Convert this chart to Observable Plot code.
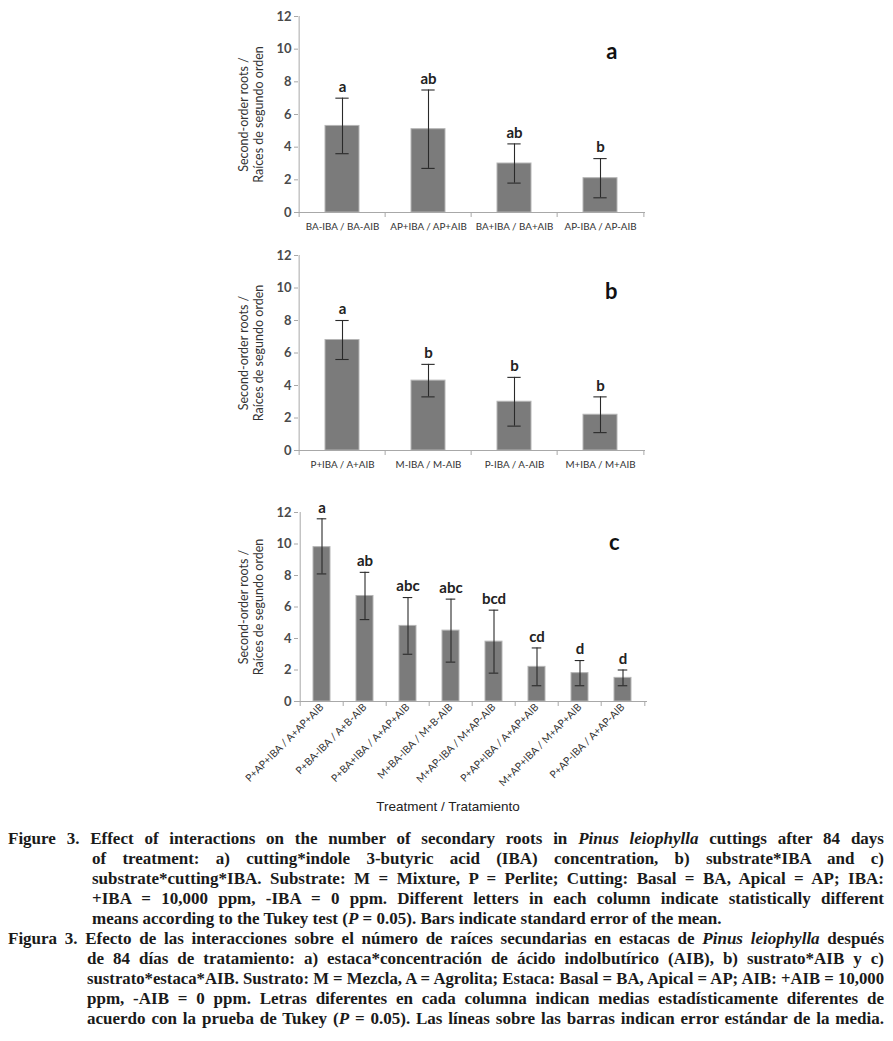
<!DOCTYPE html>
<html><head><meta charset="utf-8">
<script src="https://cdn.jsdelivr.net/npm/d3@7"></script>
<script src="https://cdn.jsdelivr.net/npm/@observablehq/plot@0.6"></script>
<style>
html,body{margin:0;padding:0;background:#fff;}
#wrap{position:relative;width:893px;height:1041px;overflow:hidden;}
.panel{position:absolute;left:0;}
.cap{position:absolute;font-family:"Liberation Serif","Times New Roman",serif;font-weight:bold;font-size:17px;line-height:20px;color:#1a1a1a;white-space:nowrap;}
.cap.just{text-align:justify;text-align-last:justify;}
.cap span{display:inline-block;transform-origin:0 50%;}
#xlab{position:absolute;font-family:"Liberation Sans",Arial,sans-serif;font-size:13.5px;color:#222;}
</style></head>
<body><div id="wrap"></div>
<script>
// ---- data ----
const catsA = ["BA-IBA / BA-AIB", "AP+IBA / AP+AIB", "BA+IBA / BA+AIB", "AP-IBA / AP-AIB"];
const meanA = [5.3, 5.1, 3.0, 2.1];
const loA = [3.6, 2.7, 1.8, 0.9];
const hiA = [7.0, 7.5, 4.2, 3.3];
const letA = ["a", "ab", "ab", "b"];

const catsB = ["P+IBA / A+AIB", "M-IBA / M-AIB", "P-IBA / A-AIB", "M+IBA / M+AIB"];
const meanB = [6.8, 4.3, 3.0, 2.2];
const loB = [5.6, 3.3, 1.5, 1.1];
const hiB = [8.0, 5.3, 4.5, 3.3];
const letB = ["a", "b", "b", "b"];

const catsC = ["P+AP+IBA / A+AP+AIB", "P+BA-IBA / A+B-AIB", "P+BA+IBA / A+AP+AIB", "M+BA-IBA / M+B-AIB",
  "M+AP-IBA / M+AP-AIB", "P+AP+IBA / A+AP+AIB", "M+AP+IBA / M+AP+AIB", "P+AP-IBA / A+AP-AIB"];
const meanC = [9.8, 6.7, 4.8, 4.5, 3.8, 2.2, 1.8, 1.5];
const loC = [8.1, 5.2, 3.0, 2.5, 1.8, 1.0, 1.0, 1.0];
const hiC = [11.6, 8.2, 6.6, 6.5, 5.8, 3.4, 2.6, 2.0];
const letC = ["a", "ab", "abc", "abc", "bcd", "cd", "d", "d"];

const yTicks = [0, 2, 4, 6, 8, 10, 12];
const yTitle = "Second-order roots /\nRaíces de segundo orden";
const xTitle = "Treatment / Tratamiento";

const captionEN = [
  "Figure 3. Effect of interactions on the number of secondary roots in <i>Pinus leiophylla</i> cuttings after 84 days",
  "of treatment: a) cutting*indole 3-butyric acid (IBA) concentration, b) substrate*IBA and c)",
  "substrate*cutting*IBA. Substrate: M = Mixture, P = Perlite; Cutting: Basal = BA, Apical = AP; IBA:",
  "+IBA = 10,000 ppm, -IBA = 0 ppm. Different letters in each column indicate statistically different",
  "means according to the Tukey test (<i>P</i> = 0.05). Bars indicate standard error of the mean."
];
const captionES = [
  "Figura 3. Efecto de las interacciones sobre el número de raíces secundarias en estacas de <i>Pinus leiophylla</i> después",
  "de 84 días de tratamiento: a) estaca*concentración de ácido indolbutírico (AIB), b) sustrato*AIB y c)",
  "sustrato*estaca*AIB. Sustrato: M = Mezcla, A = Agrolita; Estaca: Basal = BA, Apical = AP; AIB: +AIB = 10,000",
  "ppm, -AIB = 0 ppm. Letras diferentes en cada columna indican medias estadísticamente diferentes de",
  "acuerdo con la prueba de Tukey (<i>P</i> = 0.05). Las líneas sobre las barras indican error estándar de la media."
];

// ---- layout ----
const W = 893, FL = 298;
const wrap = document.getElementById("wrap");

function panel({cats, mean, lo, hi, let_, tag, top, frameRight, marginTop, frameBottom, marginBottom, rotate, cap, tagDy}) {
  const n = cats.length;
  const rows = cats.map((c, i) => ({i, m: mean[i], lo: lo[i], hi: hi[i], L: let_[i]}));
  const step = (frameRight - FL) / n;
  const bw = step * 0.4;
  const capInset = (bw - cap) / 2;
  const height = frameBottom + marginBottom;
  const font = "Lato, 'Open Sans', sans-serif";
  const chart = Plot.plot({
    width: W, height,
    marginLeft: FL, marginRight: W - frameRight, marginTop, marginBottom: height - frameBottom,
    style: {fontFamily: font, background: "transparent", overflow: "visible"},
    x: {type: "band", domain: d3.range(n), paddingInner: 0.6, paddingOuter: 0.3},
    y: {domain: [0, 12]},
    marks: [
      Plot.barY(rows, {x: "i", y: "m", fill: "#7b7b7b", stroke: "#b5b5b5", strokeWidth: 1}),
      Plot.ruleX(rows, {x: "i", y1: "lo", y2: "hi", stroke: "#2a2a2a", strokeWidth: 1.1}),
      Plot.tickY(rows, {x: "i", y: "hi", stroke: "#2a2a2a", strokeWidth: 1.1, insetLeft: capInset, insetRight: capInset}),
      Plot.tickY(rows, {x: "i", y: "lo", stroke: "#2a2a2a", strokeWidth: 1.1, insetLeft: capInset, insetRight: capInset}),
      Plot.text(rows, {x: "i", y: "hi", text: "L", dy: -11, fontWeight: "bold", fontSize: 15, fill: "#222"}),
      Plot.ruleY([0], {stroke: "#a8a8a8"}),
      Plot.ruleX([0], {x: d => d, dx: -step / 2, y1: 0, y2: 12, stroke: "#a8a8a8"}),
      Plot.ruleX(rows, {x: "i", dx: -step / 2, y1: 0, y2: 0, insetBottom: -5, stroke: "#a8a8a8"}),
      Plot.ruleX([n - 1], {x: d => d, dx: step / 2, y1: 0, y2: 0, insetBottom: -5, stroke: "#a8a8a8"}),
      Plot.axisY({ticks: yTicks, tickSize: 4, tickPadding: 3, stroke: "#a8a8a8", fill: "#4a4a4a", fontWeight: "bold", fontSize: 13, label: null}),
      rotate
        ? Plot.axisX({tickSize: 0, tickPadding: 4, tickRotate: -45, tickFormat: i => cats[i], fill: "#333", fontSize: 10.3, label: null})
        : Plot.axisX({tickSize: 0, tickPadding: 11, tickFormat: i => cats[i], fill: "#333", fontSize: 9.8, label: null}),
      Plot.text([tag], {frameAnchor: "top-right", text: d => d, dx: -28, dy: tagDy, fontWeight: "bold", fontSize: 22, fill: "#111"}),
      Plot.text([yTitle], {frameAnchor: "left", textAnchor: "middle", lineAnchor: "middle", text: d => d, rotate: -90, dx: -48, fontSize: 12.5, lineHeight: 1.2, fill: "#333"})
    ]
  });
  chart.classList.add("panel");
  chart.style.top = top + "px";
  wrap.appendChild(chart);
}

panel({cats: catsA, mean: meanA, lo: loA, hi: hiA, let_: letA, tag: "a", top: 0, frameRight: 645, marginTop: 16, frameBottom: 212, marginBottom: 30, rotate: false, cap: 14, tagDy: 27});
panel({cats: catsB, mean: meanB, lo: loB, hi: hiB, let_: letB, tag: "b", top: 240, frameRight: 645, marginTop: 15, frameBottom: 210, marginBottom: 30, rotate: false, cap: 14, tagDy: 28});
panel({cats: catsC, mean: meanC, lo: loC, hi: hiC, let_: letC, tag: "c", top: 490, frameRight: 647, marginTop: 22, frameBottom: 211, marginBottom: 100, rotate: true, cap: 10, tagDy: 22});

const xl = document.createElement("div");
xl.id = "xlab"; xl.textContent = xTitle;
xl.style.left = "0px"; xl.style.width = "896px"; xl.style.textAlign = "center"; xl.style.top = "799px";
wrap.appendChild(xl);

function capLines(lines, startTop, indent, lastLeft) {
  lines.forEach((t, k) => {
    const d = document.createElement("div");
    d.className = "cap";
    const left = k === 0 ? 8 : indent;
    const target = 884 - left;
    d.style.left = left + "px";
    d.style.width = target + "px";
    d.style.top = (startTop + k * 20) + "px";
    const s = document.createElement("span");
    s.innerHTML = t;
    d.appendChild(s);
    wrap.appendChild(d);
    const w = s.getBoundingClientRect().width;
    const isLast = lastLeft && k === lines.length - 1;
    if (w > target) {
      s.style.transform = `scaleX(${target / w})`;
    } else if (!isLast) {
      s.style.display = "inline";
      d.classList.add("just");
    }
  });
}
capLines(captionEN, 829, 92, true);
capLines(captionES, 929, 87, false);
</script>
</body></html>
